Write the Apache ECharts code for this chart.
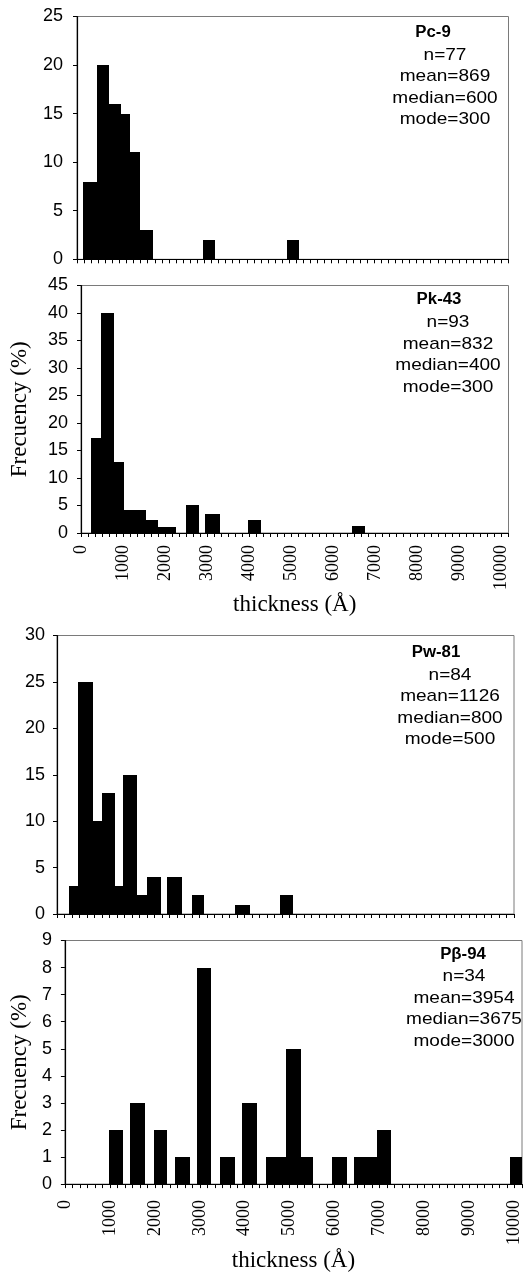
<!DOCTYPE html>
<html><head><meta charset="utf-8">
<script src="https://cdn.jsdelivr.net/npm/echarts@6/dist/echarts.min.js"></script>
<style>html,body{margin:0;padding:0;background:#fff}#c{width:528px;height:1273px}</style>
</head><body><div id="c"></div>
<script>
// ---------- data (thickness bins in Å, frequency) ----------
const xTickLabels = [0, 1000, 2000, 3000, 4000, 5000, 6000, 7000, 8000, 9000, 10000];

const pc9Lo   = [148, 464, 747, 1030, 1249, 1484, 2962, 4941];
const pc9Hi   = [464, 747, 1030, 1249, 1484, 1784, 3252, 5231];
const pc9Freq = [8, 20, 16, 15, 11, 3, 2, 2];
const pc9Stats = ['n=77', 'mean=869', 'median=600', 'mode=300'];

const pk43Lo   = [229, 478, 794, 1030, 1285, 1539, 1821, 2045, 2491, 2938, 3975, 6456];
const pk43Hi   = [478, 794, 1030, 1285, 1539, 1821, 2045, 2269, 2797, 3306, 4272, 6746];
const pk43Freq = [17.3, 40, 12.9, 4.2, 4.2, 2.4, 1.1, 1.1, 5.1, 3.4, 2.4, 1.2];
const pk43Stats = ['n=93', 'mean=832', 'median=400', 'mode=300'];

const pw81Lo   = [274, 474, 794, 994, 1290, 1475, 1773, 1996, 2440, 2997, 3960, 4961];
const pw81Hi   = [474, 794, 994, 1290, 1475, 1773, 1996, 2307, 2774, 3270, 4294, 5257];
const pw81Freq = [3, 25, 10, 13, 3, 15, 2, 4, 4, 2, 1, 2];
const pw81Stats = ['n=84', 'mean=1126', 'median=800', 'mode=500'];

const pb94Lo   = [975, 1446, 1981, 2449, 2933, 3455, 3946, 4467, 4690, 4914, 5260, 5942, 6419, 6684, 6948, 9903];
const pb94Hi   = [1298, 1783, 2260, 2788, 3242, 3792, 4269, 4690, 4914, 5260, 5524, 6272, 6684, 6948, 7262, 10167];
const pb94Freq = [2, 3, 2, 1, 8, 1, 3, 1, 1, 5, 1, 1, 1, 1, 2, 1];
const pb94Stats = ['n=34', 'mean=3954', 'median=3675', 'mode=3000'];

const sampleNames = ['Pc-9', 'Pk-43', 'Pw-81', 'Pβ-94'];
const yMaxes = [25, 45, 30, 9];
const yIntervals = [5, 5, 5, 1];
const xTitle = 'thickness (Å)';
const yTitle = 'Frecuency (%)';

// ---------- chart ----------
const X_STEP = 1000 / 6;
const X_MAX = 61 * X_STEP;
const SANS = '"Liberation Sans", Arial, sans-serif';
const SERIF = '"Liberation Serif", "Times New Roman", serif';

function zipBins(lo, hi, f) { return lo.map((v, i) => [v, hi[i], f[i]]); }
const panels = [
  zipBins(pc9Lo, pc9Hi, pc9Freq),
  zipBins(pk43Lo, pk43Hi, pk43Freq),
  zipBins(pw81Lo, pw81Hi, pw81Freq),
  zipBins(pb94Lo, pb94Hi, pb94Freq)
];
const statsList = [pc9Stats, pk43Stats, pw81Stats, pb94Stats];

const grids = [
  { left: 77, right: 19.5, top: 16.5, height: 242.8 },
  { left: 77, right: 19.5, top: 285.5, height: 247.5 },
  { left: 57, right: 14, top: 635.5, height: 278.5 },
  { left: 60, right: 6, top: 940.5, height: 251.8 }
];
const showX = [false, true, false, true];
const xLabelMargin = [12, 12, 16, 16];
const xNameGap = [56, 56, 62, 62];
const yLabelMargin = [14, 13, 12, 13];
const yNameGap = [50, 50, 33, 33];

function isMajor(v) {
  const k = v / 1000;
  return Math.abs(k - Math.round(k)) < 1e-6;
}
function majorLabel(v) {
  const r = Math.round(v);
  return xTickLabels.indexOf(r) >= 0 && isMajor(v) ? String(r) : '';
}

function renderBar(params, api) {
  const p0 = api.coord([api.value(0), api.value(2)]);
  const p1 = api.coord([api.value(1), 0]);
  const x0 = Math.round(p0[0]), x1 = Math.round(p1[0]);
  const y0 = Math.round(p0[1]), y1 = p1[1];
  return {
    type: 'rect',
    shape: { x: x0, y: y0, width: x1 - x0, height: y1 - y0 },
    style: { fill: '#000' }
  };
}

const option = {
  backgroundColor: '#fff',
  animation: false,
  grid: grids.map(g => Object.assign({ show: true, borderColor: '#7a7a7a', borderWidth: 1, backgroundColor: 'transparent' }, g)),
  xAxis: grids.map((g, i) => ({
    type: 'value', gridIndex: i, min: 0, max: X_MAX, interval: X_STEP,
    axisLine: { show: true, onZero: false, lineStyle: { color: '#000', width: 1.2 } },
    axisTick: { show: true, length: 4, lineStyle: { color: '#000', width: 1 } },
    splitLine: { show: false },
    axisLabel: {
      show: showX[i], rotate: 90, margin: xLabelMargin[i],
      fontFamily: SERIF, fontSize: 18, color: '#000', formatter: majorLabel
    },
    name: showX[i] ? xTitle : '', nameLocation: 'middle', nameGap: xNameGap[i],
    nameTextStyle: { fontFamily: SERIF, fontSize: 23, color: '#000' }
  })),
  yAxis: grids.map((g, i) => ({
    type: 'value', gridIndex: i, min: 0, max: yMaxes[i], interval: yIntervals[i],
    axisLine: { show: true, lineStyle: { color: '#000', width: 1.2 } },
    axisTick: { show: true, length: 4, lineStyle: { color: '#000', width: 1 } },
    splitLine: { show: false },
    axisLabel: { margin: yLabelMargin[i], fontFamily: SANS, fontSize: 18, color: '#000' },
    name: showX[i] ? yTitle : '', nameLocation: 'middle', nameGap: yNameGap[i], nameRotate: 90,
    nameTextStyle: { fontFamily: SERIF, fontSize: 23, color: '#000' }
  })),
  series: panels.map((d, i) => ({
    type: 'custom', xAxisIndex: i, yAxisIndex: i,
    renderItem: renderBar,
    encode: { x: [0, 1], y: 2 },
    data: d
  })),
  graphic: []
};

// stats annotations
const titleCx = [433, 439, 436, 463];
const titleCy = [33, 300, 653, 955];
const statsCx = [445, 448, 450, 464];
const statsTop = [44.3, 312, 664.5, 966];
sampleNames.forEach((name, i) => {
  option.graphic.push({
    type: 'text', x: titleCx[i], y: titleCy[i], z: 100, scaleX: 1.05,
    style: { text: name, font: 'bold 16px ' + SANS, fill: '#000', align: 'center', textAlign: 'center', verticalAlign: 'middle', textVerticalAlign: 'middle' }
  });
  option.graphic.push({
    type: 'text', x: statsCx[i], y: statsTop[i], z: 100, scaleX: 1.12,
    style: { text: statsList[i].join('\n'), font: '17px ' + SANS, lineHeight: 21.5, fill: '#000', align: 'center', textAlign: 'center', verticalAlign: 'top', textVerticalAlign: 'top' }
  });
});

const chart = echarts.init(document.getElementById('c'), null, { renderer: 'canvas' });
chart.setOption(option);
</script>
</body></html>
